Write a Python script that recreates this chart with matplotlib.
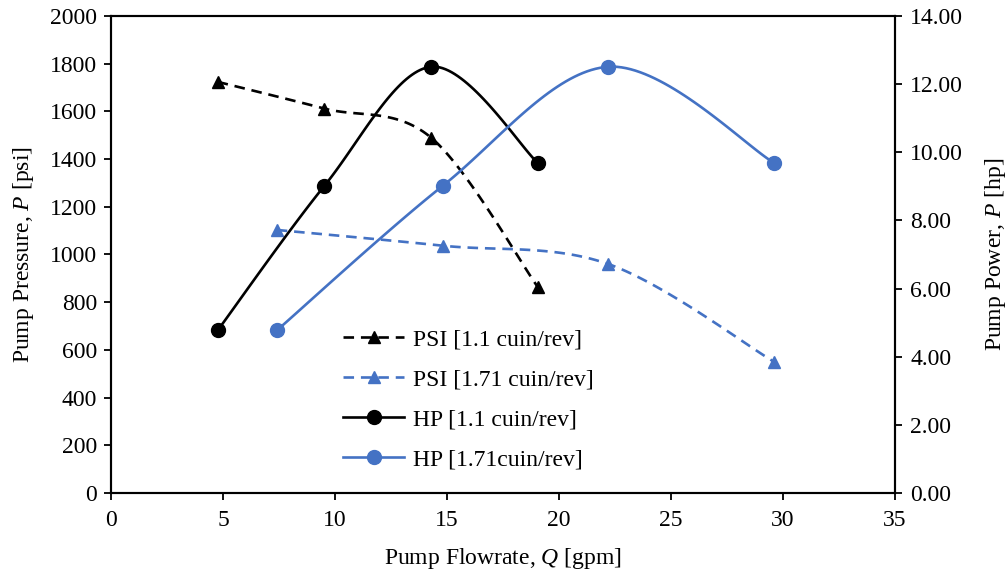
import numpy as np
import matplotlib
matplotlib.use("Agg")
import matplotlib.pyplot as plt
from matplotlib.ticker import FormatStrFormatter, MultipleLocator
from matplotlib.lines import Line2D

# ---------------- data ----------------
flow_11 = [4.76, 9.52, 14.29, 19.05]        # gpm, 1.1 cuin/rev
flow_171 = [7.40, 14.80, 22.20, 29.60]      # gpm, 1.71 cuin/rev
psi_11 = [1724, 1612, 1490, 864]
psi_171 = [1103, 1037, 960, 550]
hp_11 = [4.77, 9.01, 12.51, 9.69]
hp_171 = [4.77, 9.01, 12.51, 9.69]

labels = ["PSI [1.1 cuin/rev]", "PSI [1.71 cuin/rev]",
          "HP [1.1 cuin/rev]", "HP [1.71cuin/rev]"]
x_ticks = [0, 5, 10, 15, 20, 25, 30, 35]
blue = "#4472C4"

plt.rcParams["font.family"] = ["Liberation Serif", "DejaVu Serif"]
plt.rcParams["mathtext.fontset"] = "custom"
plt.rcParams["mathtext.rm"] = "Liberation Serif"
plt.rcParams["mathtext.it"] = "Liberation Serif:italic"

W, H = 1006, 573
fig = plt.figure(figsize=(W / 100, H / 100), dpi=100)
ax = fig.add_axes([111 / W, 1 - 493 / H, (895 - 111) / W, (493 - 16) / H])
ax2 = ax.twinx()

ax.set_xlim(0, 35)
ax.set_ylim(0, 2000)
ax2.set_ylim(0, 14)
ax.set_xticks(x_ticks)
ax.yaxis.set_major_locator(MultipleLocator(200))
ax2.yaxis.set_major_locator(MultipleLocator(2))
ax2.yaxis.set_major_formatter(FormatStrFormatter("%.2f"))


def smooth(axis, xs, ys, n=40):
    """Excel-style smoothed line (Catmull-Rom Bezier in screen space)."""
    pts = axis.transData.transform(np.column_stack([xs, ys]))
    m = len(pts)
    out = []
    t = np.linspace(0, 1, n)[:, None]
    for i in range(m - 1):
        p0 = pts[max(i - 1, 0)]
        p1 = pts[i]
        p2 = pts[i + 1]
        p3 = pts[min(i + 2, m - 1)]
        c1 = p1 + (p2 - p0) / 6.0
        c2 = p2 - (p3 - p1) / 6.0
        seg = ((1 - t) ** 3) * p1 + 3 * ((1 - t) ** 2) * t * c1 + 3 * (1 - t) * t ** 2 * c2 + t ** 3 * p2
        out.append(seg if i == 0 else seg[1:])
    out = np.vstack(out)
    d = axis.transData.inverted().transform(out)
    return d[:, 0], d[:, 1]


lw = 1.9
dash = (0, (4, 2.6))
tri_ms = 9
dot_ms = 10

sx, sy = smooth(ax, flow_11, psi_11)
ax.plot(sx, sy, color="black", lw=lw, linestyle=dash)
ax.plot(flow_11, psi_11, color="black", linestyle="none", marker="^", markersize=tri_ms)

sx, sy = smooth(ax, flow_171, psi_171)
ax.plot(sx, sy, color=blue, lw=lw, linestyle=dash)
ax.plot(flow_171, psi_171, color=blue, linestyle="none", marker="^", markersize=tri_ms)

sx, sy = smooth(ax2, flow_11, hp_11)
ax2.plot(sx, sy, color="black", lw=lw)
ax2.plot(flow_11, hp_11, color="black", linestyle="none", marker="o", markersize=dot_ms)

sx, sy = smooth(ax2, flow_171, hp_171)
ax2.plot(sx, sy, color=blue, lw=lw)
ax2.plot(flow_171, hp_171, color=blue, linestyle="none", marker="o", markersize=dot_ms)

handles = [
    Line2D([], [], color="black", lw=lw, linestyle=dash, marker="^", markersize=tri_ms),
    Line2D([], [], color=blue, lw=lw, linestyle=dash, marker="^", markersize=tri_ms),
    Line2D([], [], color="black", lw=lw, marker="o", markersize=dot_ms),
    Line2D([], [], color=blue, lw=lw, marker="o", markersize=dot_ms),
]
fs = 17
leg = ax2.legend(handles, labels, loc="upper left",
                 bbox_to_anchor=(343 / W, 1 - 329 / H), bbox_transform=fig.transFigure,
                 frameon=False, fontsize=fs, handlelength=2.6, handletextpad=0.35,
                 labelspacing=0.78, borderpad=0, borderaxespad=0)

for a in (ax, ax2):
    a.tick_params(labelsize=fs, direction="out", length=5, width=1.3, colors="black")
    for s in a.spines.values():
        s.set_linewidth(1.5)
ax.tick_params(axis="y", pad=5)
ax.tick_params(axis="x", pad=7)
ax2.tick_params(axis="y", pad=6)

ax.set_xlabel(r"Pump Flowrate, $\mathit{Q}$ [gpm]", fontsize=fs, labelpad=11)
ax.set_ylabel(r"Pump Pressure, $\mathit{P}$ [psi]", fontsize=fs, labelpad=10)
ax2.set_ylabel(r"Pump Power, $\mathit{P}$ [hp]", fontsize=fs, labelpad=14)

fig.savefig("out.png", dpi=100)
